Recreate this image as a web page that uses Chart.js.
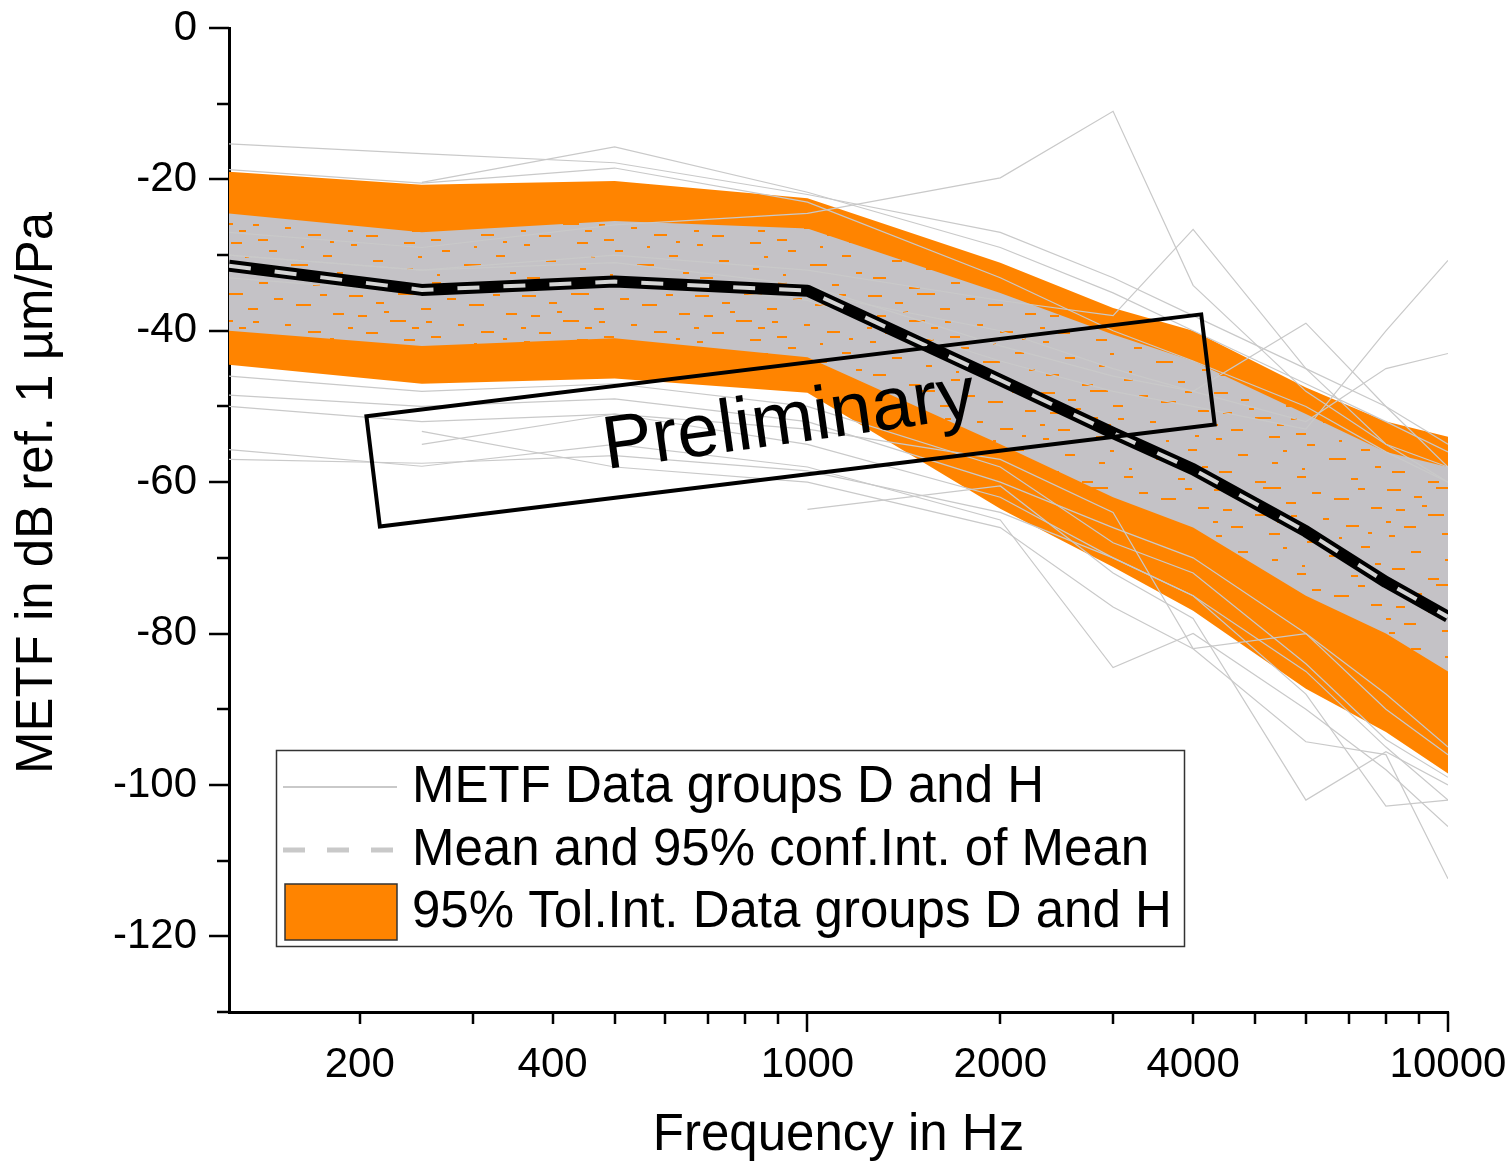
<!DOCTYPE html>
<html>
<head>
<meta charset="utf-8">
<script src="https://cdn.jsdelivr.net/npm/chart.js@4.4.1/dist/chart.umd.min.js"></script>
<style>
body { margin: 0; background: #fff; }
</style>
</head>
<body>
<canvas id="myChart" width="1510" height="1167"></canvas>
<script>
// frequencies (Hz)
const freqs = [125, 250, 500, 1000, 2000, 3000, 4000, 6000, 8000, 10000];

// 95% tolerance interval
const tolUpper = [-19.0, -20.7, -20.2, -22.5, -31.0, -37.0, -40.0, -47.5, -52.0, -54.0];
const tolLower = [-44.5, -47.0, -46.3, -48.2, -63.5, -71.2, -77.0, -87.3, -93.0, -98.5];

// dense core of the measured curves
const coreUpper = [-24.5, -27.0, -25.5, -26.5, -35.0, -40.5, -44.0, -51.0, -56.0, -58.0];
const coreLower = [-40.0, -42.0, -41.0, -43.5, -55.0, -62.0, -66.0, -75.0, -80.0, -85.0];

// mean
const meanVals = [-31.4, -34.6, -33.5, -34.7, -46.5, -53.5, -58.3, -66.5, -73.2, -77.8];

// single curves that stick out of the core
const curveA = [-15.3, -16.6, -17.8, -22.0, -27.0, -33.0, -38.0, -45.0, -50.0, -55.0];
const curveB = [null, -20.4, -15.7, -21.7, -29.0, -35.0, -40.0, -47.0, -52.0, -56.0];
const curveC = [-18.7, -20.5, -18.5, -23.0, -33.0, -40.0, -44.0, -50.0, -56.0, -60.0];
const curveD = [-27.0, -29.0, -26.0, -24.5, -19.8, -11.0, -34.0, -48.0, -55.0, -60.0];
const curveE = [-30.0, -32.0, -30.0, -32.0, -36.0, -38.0, -26.6, -45.0, -55.0, -58.0];
const curveF = [-33.0, -35.0, -33.0, -36.0, -44.0, -48.0, -50.0, -53.0, -40.0, -30.7];
const curveG = [-30.0, -32.0, -31.0, -34.0, -42.0, -46.0, -48.0, -52.0, -45.0, -43.0];
const curveH = [-32.0, -34.0, -33.0, -35.0, -40.0, -45.0, -48.0, -39.0, -50.0, -58.0];
const curveI = [-48.5, -50.0, -49.0, -52.0, -60.0, -66.0, -70.0, -80.0, -88.0, -95.0];
const curveJ = [-50.0, -52.0, -51.0, -55.0, -62.0, -70.0, -75.0, -85.0, -95.0, -102.0];
const curveK = [-55.7, -57.9, -55.0, -58.0, -65.0, -84.5, -80.0, -90.0, -98.0, -105.5];
const curveL = [null, -53.3, -58.0, -60.0, -66.0, -76.5, -82.0, -94.3, -96.0, -112.4];
const curveM = [null, null, null, -63.6, -60.5, -72.0, -78.0, -102.0, -95.6, -100.0];
const curveN = [-57.0, -57.5, -56.5, -58.5, -64.0, -70.0, -75.0, -88.0, -102.8, -102.0];
const curveO = [-46.0, -48.0, -47.0, -50.0, -58.0, -68.0, -72.0, -84.0, -94.0, -99.0];
const curveP = [null, -55.0, -51.0, -53.0, -57.0, -64.0, -82.0, -80.0, -90.0, -96.0];
const curves = [curveA, curveB, curveC, curveD, curveE, curveF, curveG, curveH,
	curveI, curveJ, curveK, curveL, curveM, curveN, curveO, curveP];

// axis ticks
const xTickValues = [200, 300, 400, 500, 600, 700, 800, 900, 1000,
	2000, 3000, 4000, 5000, 6000, 7000, 8000, 9000, 10000];
const xTickLabels = [200, 400, 1000, 2000, 4000, 10000];
const xMajor = [1000, 10000];

const ORANGE = '#ff8400';
const CORE = '#c4c2c6';
const LINEGRAY = '#c9c9c9';
const FONT = '"Liberation Sans", Arial, sans-serif';

Chart.defaults.font.family = FONT;
Chart.defaults.color = '#000';

function pts(vals) {
	return freqs.map((f, i) => ({x: f, y: vals[i]}));
}

// grey core with orange flecks like the original print
function corePattern() {
	const c = document.createElement('canvas');
	c.width = 173; c.height = 97;
	const g = c.getContext('2d');
	g.fillStyle = CORE;
	g.fillRect(0, 0, c.width, c.height);
	g.fillStyle = ORANGE;
	const flecks = [[3,4,14],[30,11,8],[52,2,18],[75,17,10],[12,24,9],[44,29,16],
		[66,36,7],[20,41,12],[85,45,10],[5,50,6],[58,48,11],[38,20,5],[80,30,6],
		[101,7,9],[123,13,15],[147,3,7],[160,22,11],[112,33,6],[135,40,13],[96,56,8],
		[150,61,9],[118,70,17],[27,66,10],[61,74,6],[8,83,13],[86,88,9],[140,90,7],
		[44,93,11],[164,78,6],[72,62,4],[2,36,5],[128,52,3],[157,47,4],[91,80,3]];
	flecks.forEach(f => g.fillRect(f[0], f[1], f[2], 2));
	return g.createPattern(c, 'repeat');
}

const datasets = [
	{data: pts(tolUpper), borderWidth: 0, backgroundColor: ORANGE, fill: '+1', order: 20},
	{data: pts(tolLower), borderWidth: 0, fill: false, order: 20},
	{data: pts(coreUpper), borderWidth: 0, backgroundColor: corePattern(), fill: '+1', order: 19},
	{data: pts(coreLower), borderWidth: 0, fill: false, order: 19}
];
curves.forEach(c => datasets.push({
	data: pts(c), borderColor: LINEGRAY, borderWidth: 1.2, fill: false, order: 10
}));
datasets.push({data: pts(meanVals), borderColor: '#000', borderWidth: 12, fill: false, order: 2,
	borderJoinStyle: 'round'});
datasets.push({data: pts(meanVals), borderColor: '#d4d4d4', borderWidth: 4, borderDash: [22, 24],
	fill: false, order: 1});

const tickMarks = {
	id: 'tickMarks',
	afterDraw(chart) {
		const ctx = chart.ctx;
		const xs = chart.scales.x, ys = chart.scales.y;
		const a = chart.chartArea;
		ctx.save();
		ctx.strokeStyle = '#000';
		ctx.lineWidth = 2.5;
		xTickValues.forEach(v => {
			const px = Math.round(xs.getPixelForValue(v));
			const len = xMajor.includes(v) ? 20 : 12;
			ctx.beginPath();
			ctx.moveTo(px, a.bottom);
			ctx.lineTo(px, a.bottom + len);
			ctx.stroke();
		});
		ys.ticks.forEach(t => {
			const py = Math.round(ys.getPixelForValue(t.value));
			const len = t.value % 20 === 0 ? 20 : 12;
			ctx.beginPath();
			ctx.moveTo(a.left, py);
			ctx.lineTo(a.left - len, py);
			ctx.stroke();
		});
		// y axis title, centred a bit above the plot middle as in the original
		ctx.translate(38, 493);
		ctx.rotate(-Math.PI / 2);
		ctx.font = '51px ' + FONT;
		ctx.fillStyle = '#000';
		ctx.textAlign = 'center';
		ctx.textBaseline = 'middle';
		ctx.fillText('METF in dB ref. 1 µm/Pa', 0, 0);
		ctx.restore();
	}
};

const stamp = {
	id: 'stamp',
	afterDatasetsDraw(chart) {
		const ctx = chart.ctx;
		ctx.save();
		ctx.translate(790, 420);
		ctx.rotate(-6.96 * Math.PI / 180);
		ctx.strokeStyle = '#000';
		ctx.lineWidth = 4;
		ctx.strokeRect(-420, -55, 841, 111);
		ctx.restore();

		ctx.save();
		ctx.translate(792, 443);
		ctx.rotate(-8 * Math.PI / 180);
		ctx.font = '75px ' + FONT;
		ctx.fillStyle = '#000';
		ctx.textAlign = 'center';
		ctx.textBaseline = 'alphabetic';
		ctx.fillText('Preliminary', 0, 0);
		ctx.restore();
	}
};

const legendBox = {
	id: 'legendBox',
	afterDraw(chart) {
		const ctx = chart.ctx;
		ctx.save();
		ctx.fillStyle = '#fff';
		ctx.fillRect(276, 750, 908, 196);
		ctx.strokeStyle = '#333';
		ctx.lineWidth = 1.5;
		ctx.strokeRect(276.5, 750.5, 908, 196);

		ctx.strokeStyle = LINEGRAY;
		ctx.lineWidth = 2;
		ctx.beginPath(); ctx.moveTo(283, 787); ctx.lineTo(397, 787); ctx.stroke();

		ctx.lineWidth = 5;
		ctx.setLineDash([22, 22]);
		ctx.beginPath(); ctx.moveTo(283, 850); ctx.lineTo(397, 850); ctx.stroke();
		ctx.setLineDash([]);

		ctx.fillStyle = ORANGE;
		ctx.fillRect(285, 884, 112, 56);
		ctx.strokeStyle = '#333';
		ctx.lineWidth = 1.5;
		ctx.strokeRect(285, 884, 112, 56);

		ctx.fillStyle = '#000';
		ctx.font = '51px ' + FONT;
		ctx.textBaseline = 'middle';
		ctx.fillText('METF Data groups D and H', 412, 788);
		ctx.fillText('Mean and 95% conf.Int. of Mean', 412, 851);
		ctx.fillText('95% Tol.Int. Data groups D and H', 412, 913);
		ctx.restore();
	}
};

new Chart(document.getElementById('myChart'), {
	type: 'line',
	data: {datasets: datasets},
	options: {
		responsive: false,
		animation: false,
		events: [],
		elements: {point: {radius: 0}, line: {tension: 0}},
		layout: {padding: {left: 0, top: 28, right: 62, bottom: 0}},
		plugins: {legend: {display: false}, tooltip: {enabled: false}},
		scales: {
			x: {
				type: 'logarithmic',
				min: 125,
				max: 10000,
				afterFit(s) { s.height = 155; s.paddingLeft = 0; s.paddingRight = 0; },
				afterBuildTicks(s) { s.ticks = xTickValues.map(v => ({value: v})); },
				grid: {display: false, drawTicks: false},
				border: {display: true, color: '#000', width: 3},
				ticks: {
					autoSkip: false,
					maxRotation: 0,
					padding: 28,
					font: {size: 42},
					callback: v => xTickLabels.includes(v) ? String(v) : ''
				},
				title: {display: true, text: 'Frequency in Hz', font: {size: 51}, padding: {top: 0, bottom: 0}}
			},
			y: {
				min: -130,
				max: 0,
				afterFit(s) { s.width = 229; s.paddingTop = 0; s.paddingBottom = 0; },
				grid: {display: false, drawTicks: false},
				border: {display: true, color: '#000', width: 3},
				ticks: {
					stepSize: 10,
					padding: 32,
					font: {size: 42},
					callback: v => v % 20 === 0 ? String(v) : ''
				},
				title: {display: false}
			}
		}
	},
	plugins: [tickMarks, stamp, legendBox]
});
</script>
</body>
</html>
